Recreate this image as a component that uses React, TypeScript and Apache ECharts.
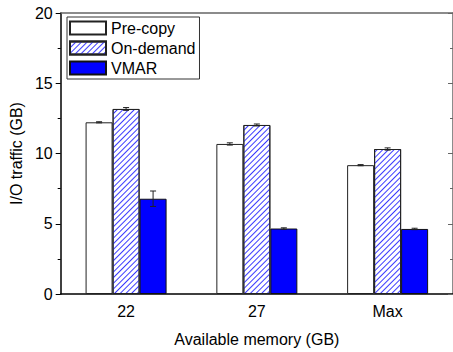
import React, { useEffect, useRef } from "react";
import * as echarts from "echarts";

const categories = ["22", "27", "Max"];
const preCopy = [12.22, 10.68, 9.17];
const preCopyErr = [0.04, 0.08, 0.04];
const onDemand = [13.17, 12.03, 10.32];
const onDemandErr = [0.1, 0.07, 0.08];
const vmar = [6.78, 4.66, 4.63];
const vmarErr = [0.55, 0.05, 0.05];
const yTicks = { min: 0, max: 20, interval: 5 };

const FONT = "Arial, 'Liberation Sans', sans-serif";
const BAR_W = 27;

function errSeries(name: string, values: number[], errs: number[], offset: number) {
  return {
    type: "custom",
    name: name + "-err",
    xAxisIndex: 0,
    yAxisIndex: 0,
    z: 10,
    silent: true,
    data: values.map((v, i) => [i, v, errs[i]]),
    renderItem: (params: any, api: any) => {
      const i = api.value(0);
      const v = api.value(1);
      const e = api.value(2);
      const top = api.coord([i, v + e]);
      const bot = api.coord([i, v - e]);
      const x = top[0] + offset;
      const cap = 3;
      const style = { stroke: "#222", lineWidth: 1 };
      return {
        type: "group",
        children: [
          { type: "line", shape: { x1: x, y1: top[1], x2: x, y2: bot[1] }, style },
          { type: "line", shape: { x1: x - cap, y1: top[1], x2: x + cap, y2: top[1] }, style },
          { type: "line", shape: { x1: x - cap, y1: bot[1], x2: x + cap, y2: bot[1] }, style },
        ],
      };
    },
  };
}

export default function App() {
  const ref = useRef<HTMLDivElement>(null);
  useEffect(() => {
    if (!ref.current) return;
    const chart = echarts.init(ref.current, null, { renderer: "svg" });
    const catBase = {
      type: "category",
      data: categories,
      gridIndex: 0,
    };
    chart.setOption({
      animation: false,
      backgroundColor: "#fff",
      textStyle: { fontFamily: FONT },
      grid: { left: 58, top: 13, width: 400, height: 282, containLabel: false },
      legend: {
        orient: "vertical",
        left: 67,
        top: 17,
        icon: "rect",
        itemWidth: 36,
        itemHeight: 13,
        itemGap: 4,
        padding: [3, 4, 3, 2],
        borderColor: "#333",
        borderWidth: 1,
        textStyle: { fontSize: 16, color: "#000", fontFamily: FONT },
        data: ["Pre-copy", "On-demand", "VMAR"],
      },
      xAxis: [
        {
          ...catBase,
          position: "bottom",
          axisLine: { lineStyle: { color: "#000", width: 1.5 } },
          axisTick: { alignWithLabel: true, length: 5, inside: false, lineStyle: { color: "#000" } },
          axisLabel: { fontSize: 16, color: "#000", margin: 9, fontFamily: FONT },
          name: "Available memory (GB)",
          nameLocation: "middle",
          nameGap: 37,
          nameTextStyle: { fontSize: 16, color: "#000", fontFamily: FONT },
          splitLine: { show: false },
        },
        {
          ...catBase,
          position: "bottom",
          axisLine: { show: false },
          axisTick: { alignWithLabel: false, length: 3, lineStyle: { color: "#000" } },
          axisLabel: { show: false },
          splitLine: { show: false },
        },
        {
          ...catBase,
          position: "top",
          axisLine: { lineStyle: { color: "#666", width: 1.5 } },
          axisTick: { alignWithLabel: true, length: 3, inside: true, lineStyle: { color: "#666" } },
          axisLabel: { show: false },
          splitLine: { show: false },
        },
        {
          ...catBase,
          position: "top",
          axisLine: { show: false },
          axisTick: { alignWithLabel: false, length: 3, inside: true, lineStyle: { color: "#666" } },
          axisLabel: { show: false },
          splitLine: { show: false },
        },
      ],
      yAxis: [
        {
          type: "value",
          position: "left",
          min: yTicks.min,
          max: yTicks.max,
          interval: yTicks.interval,
          axisLine: { show: true, lineStyle: { color: "#000", width: 1.5 } },
          axisTick: { show: true, length: 5, lineStyle: { color: "#000" } },
          minorTick: { show: true, splitNumber: 2, length: 3, lineStyle: { color: "#000" } },
          axisLabel: { fontSize: 16, color: "#000", margin: 8, fontFamily: FONT },
          splitLine: { show: false },
          name: "I/O traffic (GB)",
          nameLocation: "middle",
          nameGap: 31,
          nameTextStyle: { fontSize: 16, color: "#000", fontFamily: FONT },
        },
        {
          type: "value",
          position: "right",
          min: yTicks.min,
          max: yTicks.max,
          interval: yTicks.interval,
          axisLine: { show: true, lineStyle: { color: "#666", width: 1.5 } },
          axisTick: { show: true, inside: true, length: 5, lineStyle: { color: "#666" } },
          minorTick: { show: true, splitNumber: 2, length: 3, lineStyle: { color: "#666" } },
          axisLabel: { show: false },
          splitLine: { show: false },
        },
      ],
      series: [
        {
          type: "bar",
          name: "Pre-copy",
          data: preCopy,
          barWidth: BAR_W,
          barGap: "0%",
          itemStyle: { color: "#fff", borderColor: "#222", borderWidth: 1 },
        },
        {
          type: "bar",
          name: "On-demand",
          data: onDemand,
          barWidth: BAR_W,
          barGap: "0%",
          itemStyle: {
            color: "#fff",
            borderColor: "#222",
            borderWidth: 1,
            decal: {
              symbol: "rect",
              symbolSize: 1,
              color: "#3a3aff",
              backgroundColor: "#fff",
              dashArrayX: [1, 0],
              dashArrayY: [1, 3],
              rotation: -Math.PI / 4,
            },
          },
        },
        {
          type: "bar",
          name: "VMAR",
          data: vmar,
          barWidth: BAR_W,
          barGap: "0%",
          itemStyle: { color: "#0000ff", borderColor: "#111", borderWidth: 1 },
        },
        errSeries("Pre-copy", preCopy, preCopyErr, -BAR_W),
        errSeries("On-demand", onDemand, onDemandErr, 0),
        errSeries("VMAR", vmar, vmarErr, BAR_W),
      ],
    });
    return () => chart.dispose();
  }, []);
  return <div ref={ref} style={{ width: 453, height: 352, position: "absolute", left: 0, top: 0 }} />;
}
